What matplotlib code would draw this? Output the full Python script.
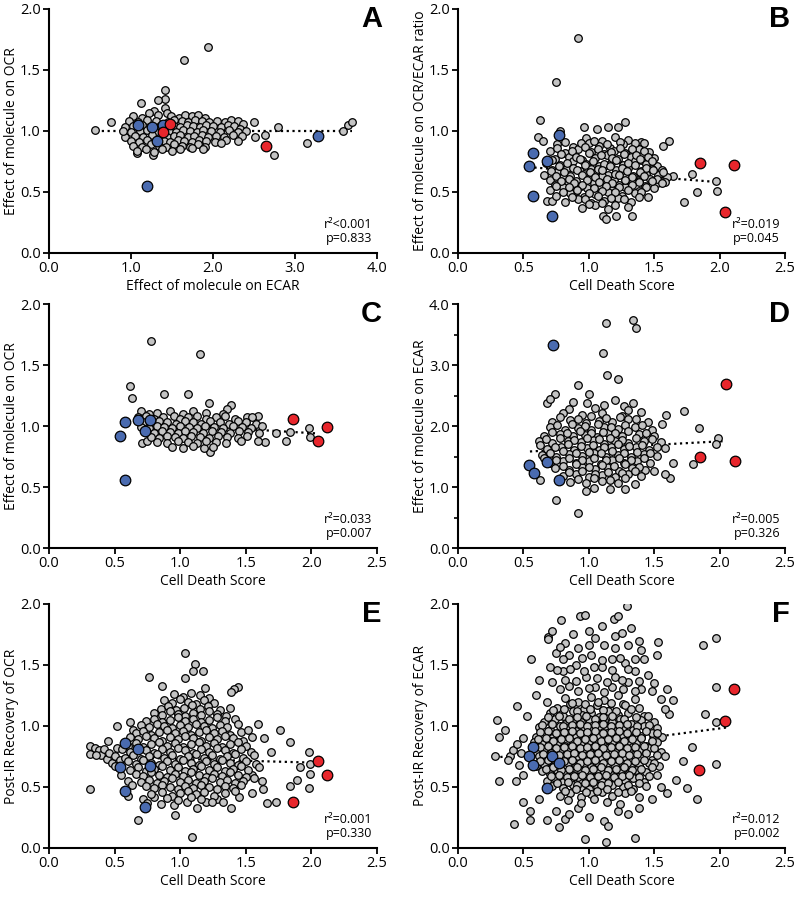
import matplotlib
matplotlib.use("Agg")
import matplotlib.pyplot as plt
from matplotlib.ticker import FormatStrFormatter, MultipleLocator

plt.rcParams['font.family'] = ['Open Sans', 'DejaVu Sans']

# ---------------- data ----------------
A_GRAY = [(0.56,1.01),(0.76,1.07),(1.94,1.69),(1.65,1.58),(1.41,1.34),(1.42,1.26),(1.33,1.25),(1.12,1.23),
          (1.42,1.19),(1.28,1.16),(1.22,1.15),(1.44,1.15),(0.93,0.95),(1.07,0.82),(1.27,0.80),(2.74,0.80),
          (3.15,0.90),(2.63,0.97),(2.51,0.95),(2.50,1.07),(2.79,1.03),(3.58,1.00),(3.65,1.05),(3.70,1.07),
          (1.02,1.12),(1.13,1.11),(1.33,1.13),(1.49,1.12),(1.58,1.11),(1.66,1.13),(1.74,1.12),(1.82,1.13),(1.90,1.11),
          (0.97,1.08),(1.08,1.07),(1.20,1.09),(1.30,1.08),(1.45,1.07),(1.53,1.09),(1.62,1.08),(1.70,1.07),(1.78,1.09),
          (1.86,1.08),(1.95,1.07),(2.05,1.08),(2.15,1.07),(2.22,1.09),(2.30,1.08),(2.36,1.06),
          (0.93,1.03),(1.02,1.04),(1.14,1.05),(1.24,1.03),(1.35,1.04),(1.52,1.04),(1.60,1.03),(1.68,1.05),(1.76,1.04),
          (1.84,1.03),(1.92,1.05),(2.00,1.04),(2.10,1.03),(2.18,1.05),(2.26,1.04),(2.33,1.02),
          (0.90,1.00),(1.00,0.99),(1.11,1.00),(1.19,1.01),(1.30,0.99),(1.46,1.00),(1.55,0.99),(1.64,1.01),(1.72,1.00),
          (1.80,0.99),(1.88,1.01),(1.97,1.00),(2.08,0.99),(2.20,1.01),(2.30,0.99),(2.40,1.00),
          (1.05,0.96),(1.15,0.95),(1.25,0.97),(1.36,0.96),(1.44,0.95),(1.52,0.96),(1.60,0.97),(1.69,0.95),(1.77,0.96),
          (1.86,0.97),(1.94,0.95),(2.04,0.96),(2.14,0.95),(2.25,0.97),(2.35,0.96),
          (1.00,0.92),(1.10,0.91),(1.20,0.93),(1.40,0.92),(1.48,0.91),(1.57,0.93),(1.65,0.92),(1.74,0.91),(1.83,0.93),
          (1.92,0.92),(2.02,0.91),(2.16,0.93),(2.30,0.92),
          (1.03,0.88),(1.14,0.87),(1.24,0.89),(1.34,0.88),(1.43,0.87),(1.52,0.89),(1.62,0.88),(1.72,0.87),(1.82,0.89),
          (1.90,0.87),(2.10,0.90),
          (1.07,0.84),(1.18,0.85),(1.28,0.83),(1.38,0.85),(1.50,0.84),(1.60,0.85),(1.75,0.86),(1.88,0.85)]
A_BLUE = [(1.08,1.05),(1.26,1.03),(1.39,1.05),(1.32,0.92),(1.20,0.55),(3.28,0.96)]
A_RED = [(1.47,1.06),(1.39,0.99),(2.65,0.88)]

B_GRAY = [(0.92,1.76),(0.75,1.40),(0.63,1.09),(0.78,1.00),(0.96,1.03),(1.06,1.02),(1.15,1.03),(1.22,1.03),
          (1.28,1.07),(1.61,0.92),(1.57,0.88),(0.61,0.95),(0.65,0.92),(1.79,0.65),(1.97,0.59),(1.98,0.51),
          (1.83,0.50),(1.73,0.42),(1.64,0.63),(1.11,0.30),(1.13,0.28),(1.21,0.30),(1.33,0.30),(0.68,0.43),(0.72,0.43),
          (0.98,0.94),(1.10,0.92),(1.20,0.95),(1.30,0.93),(1.40,0.91),
          (0.76,0.89),(0.88,0.87),(1.00,0.90),(1.08,0.88),(1.16,0.86),(1.26,0.89),(1.35,0.87),(1.42,0.90),
          (0.70,0.84),(0.82,0.82),(0.92,0.85),(1.02,0.83),(1.12,0.81),(1.19,0.84),(1.28,0.82),(1.38,0.85),(1.46,0.83),
          (0.74,0.77),(0.85,0.79),(0.95,0.76),(1.05,0.78),(1.14,0.80),(1.22,0.77),(1.32,0.79),(1.40,0.76),(1.50,0.78),
          (0.67,0.74),(0.78,0.72),(0.88,0.75),(0.98,0.73),(1.08,0.71),(1.17,0.74),(1.26,0.72),(1.35,0.75),(1.44,0.73),(1.52,0.71),
          (0.72,0.68),(0.83,0.70),(0.93,0.67),(1.02,0.69),(1.12,0.71),(1.21,0.68),(1.30,0.70),(1.40,0.67),(1.48,0.69),(1.56,0.68),
          (0.66,0.64),(0.76,0.66),(0.86,0.63),(0.96,0.65),(1.06,0.67),(1.15,0.64),(1.25,0.66),(1.34,0.63),(1.44,0.65),(1.53,0.64),(1.60,0.62),
          (0.70,0.60),(0.80,0.62),(0.90,0.59),(1.00,0.61),(1.10,0.63),(1.19,0.60),(1.28,0.62),(1.38,0.59),(1.47,0.61),(1.58,0.58),
          (0.74,0.56),(0.84,0.58),(0.94,0.55),(1.04,0.57),(1.13,0.59),(1.23,0.56),(1.33,0.58),(1.43,0.55),(1.52,0.57),
          (0.70,0.52),(0.80,0.54),(0.90,0.51),(0.99,0.53),(1.08,0.55),(1.18,0.52),(1.28,0.54),(1.38,0.51),(1.50,0.53),
          (0.75,0.47),(0.86,0.49),(0.96,0.46),(1.05,0.48),(1.15,0.50),(1.25,0.47),(1.35,0.49),(1.45,0.46),
          (0.82,0.42),(0.92,0.44),(1.02,0.41),(1.12,0.43),(1.22,0.45),(1.32,0.42),
          (0.95,0.37),(1.05,0.39),(1.15,0.36),(1.30,0.38),
          (0.82,0.91),(0.94,0.90),(1.04,0.92),(1.14,0.89),(1.24,0.91),(1.35,0.90),
          (0.76,0.86),(0.87,0.84),(0.97,0.87),(1.07,0.85),(1.17,0.83),(1.24,0.86),(1.33,0.85),(1.42,0.84),
          (0.79,0.81),(0.90,0.79),(1.00,0.82),(1.09,0.80),(1.18,0.78),(1.27,0.81),(1.36,0.80),(1.45,0.79),
          (0.72,0.76),(0.83,0.74),(0.93,0.77),(1.03,0.75),(1.12,0.73),(1.21,0.76),(1.30,0.74),(1.39,0.77),(1.48,0.75),
          (0.77,0.71),(0.88,0.70),(0.97,0.72),(1.07,0.69),(1.16,0.71),(1.25,0.70),(1.35,0.72),(1.44,0.70),
          (0.71,0.67),(0.81,0.66),(0.91,0.68),(1.01,0.66),(1.10,0.68),(1.20,0.65),(1.29,0.67),(1.39,0.66),(1.49,0.68),(1.57,0.66),
          (0.75,0.63),(0.85,0.61),(0.95,0.64),(1.05,0.62),(1.14,0.61),(1.23,0.64),(1.33,0.62),(1.42,0.63),(1.52,0.61),
          (0.79,0.59),(0.89,0.57),(0.99,0.60),(1.08,0.58),(1.18,0.57),(1.28,0.60),(1.38,0.58),(1.48,0.59),(1.56,0.57),
          (0.75,0.55),(0.85,0.54),(0.95,0.56),(1.04,0.53),(1.13,0.55),(1.23,0.54),(1.33,0.56),(1.44,0.54),
          (0.80,0.50),(0.91,0.52),(1.00,0.49),(1.10,0.51),(1.20,0.50),(1.30,0.52),(1.40,0.50),
          (0.87,0.46),(0.97,0.44),(1.07,0.47),(1.17,0.45),(1.27,0.44),(1.38,0.46),
          (1.00,0.40),(1.10,0.41),(1.20,0.39)]
B_BLUE = [(0.77,0.97),(0.57,0.82),(0.54,0.71),(0.68,0.75),(0.57,0.47),(0.72,0.30)]
B_RED = [(1.85,0.735),(2.11,0.72),(2.04,0.34)]

C_GRAY = [(0.78,1.70),(1.15,1.59),(0.62,1.33),(0.63,1.23),(0.88,1.26),(1.06,1.26),(1.22,1.19),(1.39,1.17),
          (1.36,1.14),(1.51,1.07),(1.59,1.08),(1.73,0.94),(1.81,0.88),(1.84,0.95),(1.98,0.98),(1.99,0.91),
          (1.65,0.87),(1.59,0.88),(1.23,0.79),(1.18,0.82),(0.71,0.86),(0.75,0.88),
          (0.70,1.12),(0.76,1.10),(0.82,1.11),(0.92,1.12),(1.02,1.10),(1.10,1.12),(1.20,1.11),(1.33,1.10),
          (0.68,1.07),(0.74,1.08),(0.80,1.06),(0.87,1.07),(0.95,1.08),(1.00,1.06),(1.06,1.07),(1.13,1.08),(1.20,1.06),
          (1.27,1.07),(1.34,1.08),(1.42,1.06),(1.55,1.07),
          (0.72,1.03),(0.78,1.02),(0.84,1.04),(0.90,1.03),(0.97,1.02),(1.04,1.04),(1.10,1.03),(1.16,1.02),(1.23,1.04),
          (1.30,1.03),(1.37,1.02),(1.44,1.04),(1.50,1.03),(1.58,1.02),
          (0.70,0.99),(0.76,0.98),(0.82,1.00),(0.88,0.99),(0.94,0.98),(1.00,1.00),(1.07,0.99),(1.13,0.98),(1.19,1.00),
          (1.26,0.99),(1.33,0.98),(1.40,1.00),(1.47,0.99),(1.54,0.98),(1.62,1.00),
          (0.74,0.95),(0.80,0.94),(0.86,0.96),(0.92,0.95),(0.98,0.94),(1.04,0.96),(1.10,0.95),(1.17,0.94),(1.24,0.96),
          (1.31,0.95),(1.38,0.94),(1.45,0.96),(1.52,0.95),(1.60,0.94),
          (0.78,0.91),(0.84,0.90),(0.90,0.92),(0.96,0.91),(1.02,0.90),(1.08,0.92),(1.15,0.91),(1.22,0.90),(1.29,0.92),
          (1.36,0.91),(1.44,0.90),(1.51,0.92),
          (0.82,0.87),(0.90,0.86),(0.98,0.88),(1.06,0.87),(1.13,0.86),(1.20,0.88),(1.27,0.87),(1.35,0.86),(1.46,0.88),
          (0.94,0.83),(1.02,0.82),(1.10,0.84),(1.25,0.83)]
C_BLUE = [(0.58,0.555),(0.54,0.92),(0.58,1.03),(0.68,1.05),(0.77,1.05),(0.73,0.96)]
C_RED = [(1.86,1.06),(2.12,0.99),(2.05,0.88)]

D_GRAY = [(1.13,3.69),(1.34,3.73),(1.36,3.61),(1.11,3.19),(1.14,2.83),(1.22,2.77),(0.92,2.67),(0.74,2.53),
          (1.00,2.53),(0.68,2.37),(0.99,2.38),(1.20,2.42),(1.34,2.38),(1.27,2.33),(1.12,2.35),(1.73,2.24),
          (1.59,2.18),(1.56,2.03),(1.84,1.96),(1.99,1.81),(1.97,1.70),(0.75,0.78),(0.92,0.58),(0.98,0.94),
          (1.28,0.97),(1.80,1.37),(1.64,1.39),(1.62,1.15),(1.58,1.22),(1.50,1.27),(0.63,1.11),
          (0.70,2.45),(0.85,2.28),(1.05,2.30),(1.30,2.26),(0.88,2.40),
          (0.80,2.22),(0.95,2.18),(1.10,2.21),(1.25,2.17),(1.40,2.23),
          (0.72,2.07),(0.86,2.10),(0.98,2.05),(1.08,2.09),(1.18,2.06),(1.30,2.11),(1.45,2.07),
          (0.70,1.98),(0.82,1.94),(0.92,1.97),(1.02,1.93),(1.12,1.99),(1.22,1.95),(1.35,1.98),(1.48,1.94),
          (0.66,1.84),(0.78,1.87),(0.88,1.83),(0.97,1.86),(1.06,1.82),(1.15,1.88),(1.25,1.84),(1.38,1.87),(1.50,1.83),
          (0.62,1.75),(0.72,1.72),(0.84,1.76),(0.94,1.73),(1.03,1.77),(1.12,1.71),(1.20,1.75),(1.30,1.72),(1.42,1.76),(1.55,1.73),
          (0.68,1.62),(0.79,1.65),(0.89,1.61),(0.99,1.64),(1.08,1.60),(1.17,1.66),(1.27,1.62),(1.36,1.65),(1.46,1.61),(1.58,1.64),
          (0.64,1.53),(0.75,1.50),(0.85,1.54),(0.95,1.51),(1.04,1.55),(1.13,1.49),(1.22,1.53),(1.32,1.50),(1.42,1.54),(1.52,1.51),
          (0.70,1.40),(0.80,1.43),(0.90,1.39),(1.00,1.42),(1.09,1.38),(1.18,1.44),(1.27,1.40),(1.37,1.43),(1.47,1.39),
          (0.74,1.31),(0.85,1.28),(0.95,1.32),(1.05,1.29),(1.14,1.33),(1.23,1.27),(1.33,1.31),(1.43,1.28),
          (0.80,1.18),(0.90,1.21),(1.00,1.17),(1.10,1.20),(1.20,1.16),(1.30,1.22),(1.40,1.18),
          (0.86,1.09),(0.98,1.06),(1.10,1.10),(1.22,1.07),(1.35,1.05),
          (1.04,0.99),(1.16,0.97),
          (0.78,2.15),(0.92,2.12),(1.02,2.16),(1.13,2.13),(1.24,2.15),(1.36,2.12),
          (0.76,2.01),(0.87,2.04),(0.97,2.00),(1.07,2.03),(1.17,1.99),(1.28,2.02),(1.41,2.01),
          (0.72,1.91),(0.83,1.88),(0.93,1.92),(1.02,1.89),(1.11,1.91),(1.20,1.88),(1.30,1.92),(1.44,1.89),
          (0.67,1.78),(0.78,1.81),(0.89,1.77),(0.99,1.80),(1.08,1.78),(1.16,1.81),(1.25,1.77),(1.36,1.80),(1.48,1.78),
          (0.63,1.69),(0.74,1.66),(0.84,1.70),(0.94,1.67),(1.03,1.69),(1.12,1.66),(1.22,1.70),(1.31,1.67),(1.41,1.69),(1.52,1.66),
          (0.70,1.56),(0.80,1.59),(0.90,1.55),(1.00,1.58),(1.09,1.56),(1.18,1.59),(1.27,1.55),(1.37,1.58),(1.47,1.56),
          (0.66,1.47),(0.75,1.45),(0.85,1.48),(0.95,1.44),(1.04,1.47),(1.13,1.45),(1.23,1.48),(1.32,1.44),(1.42,1.47),
          (0.80,1.35),(0.90,1.37),(1.00,1.33),(1.10,1.36),(1.19,1.34),(1.28,1.37),(1.38,1.33),
          (0.85,1.24),(0.95,1.26),(1.05,1.22),(1.15,1.25),(1.25,1.23),(1.35,1.26),
          (0.92,1.13),(1.04,1.15),(1.16,1.12),(1.28,1.14)]
D_BLUE = [(0.725,3.33),(0.54,1.355),(0.58,1.23),(0.68,1.41),(0.77,1.11)]
D_RED = [(2.05,2.69),(1.85,1.49),(2.12,1.42)]

E_GRAY = [(1.09,0.087),(0.31,0.48),(0.31,0.835),(0.31,0.77),(1.04,1.60),(1.11,1.51),(1.10,1.45),(1.17,1.45),
          (0.76,1.40),(1.04,1.39),(0.86,1.33),(1.19,1.31),(1.44,1.32),(1.41,1.30),(1.39,1.28),(0.52,1.00),
          (0.62,1.03),(0.64,0.97),(1.59,1.02),(1.76,0.97),(1.64,0.90),(1.84,0.87),(1.98,0.79),(1.69,0.79),
          (1.99,0.69),(1.99,0.61),(1.91,0.66),(1.89,0.56),(1.84,0.51),(1.98,0.49),(1.73,0.38),(1.66,0.37),
          (0.68,0.23),(0.96,0.27),(1.39,0.33),(1.13,0.33),
          (0.35,0.82),(0.38,0.80),(0.40,0.76),(0.42,0.81),(0.44,0.73),(0.46,0.78),(0.48,0.70),(0.50,0.75),
          (0.52,0.82),(0.54,0.72),(0.36,0.76),(0.45,0.88),(0.50,0.67),
          (0.55,0.60),(0.60,0.55),(0.63,0.52),(0.60,0.43),(0.72,0.40),(0.75,0.37),(0.80,0.42),(0.85,0.36),
          (0.95,0.35),(1.05,0.38),(1.20,0.38),(1.28,0.40),(1.33,0.38),(1.45,0.42),(1.55,0.45),(1.62,0.55),
          (1.63,0.48),(1.55,0.60),
          (0.95,1.26),(1.02,1.24),(1.08,1.27),(1.15,1.25),(1.22,1.23),
          (0.88,1.21),(0.94,1.19),(1.00,1.22),(1.06,1.20),(1.12,1.18),(1.18,1.21),(1.26,1.19),
          (0.85,1.14),(0.91,1.16),(0.97,1.13),(1.03,1.15),(1.09,1.17),(1.15,1.14),(1.21,1.16),(1.30,1.13),(1.38,1.15),
          (0.80,1.11),(0.86,1.09),(0.92,1.12),(0.98,1.10),(1.04,1.08),(1.10,1.11),(1.16,1.09),(1.22,1.12),(1.28,1.10),(1.35,1.08),
          (0.74,1.04),(0.80,1.06),(0.86,1.03),(0.92,1.05),(0.98,1.07),(1.04,1.04),(1.10,1.06),(1.16,1.03),(1.22,1.05),
          (1.28,1.07),(1.34,1.04),(1.42,1.06),
          (0.70,1.01),(0.76,0.99),(0.82,1.02),(0.88,1.00),(0.94,0.98),(1.00,1.01),(1.06,0.99),(1.12,1.02),(1.18,1.00),
          (1.24,0.98),(1.30,1.01),(1.36,0.99),(1.44,1.02),
          (0.66,0.94),(0.72,0.96),(0.78,0.93),(0.84,0.95),(0.90,0.97),(0.96,0.94),(1.02,0.96),(1.08,0.93),(1.14,0.95),
          (1.20,0.97),(1.26,0.94),(1.32,0.96),(1.38,0.93),(1.46,0.95),(1.52,0.97),
          (0.62,0.91),(0.68,0.89),(0.74,0.92),(0.80,0.90),(0.86,0.88),(0.92,0.91),(0.98,0.89),(1.04,0.92),(1.10,0.90),
          (1.16,0.88),(1.22,0.91),(1.28,0.89),(1.34,0.92),(1.40,0.90),(1.48,0.88),(1.55,0.91),
          (0.60,0.84),(0.66,0.86),(0.72,0.83),(0.78,0.85),(0.84,0.87),(0.90,0.84),(0.96,0.86),(1.02,0.83),(1.08,0.85),
          (1.14,0.87),(1.20,0.84),(1.26,0.86),(1.32,0.83),(1.38,0.85),(1.44,0.87),(1.50,0.84),
          (0.56,0.81),(0.62,0.79),(0.68,0.82),(0.74,0.80),(0.80,0.78),(0.86,0.81),(0.92,0.79),(0.98,0.82),(1.04,0.80),
          (1.10,0.78),(1.16,0.81),(1.22,0.79),(1.28,0.82),(1.34,0.80),(1.40,0.78),(1.46,0.81),(1.54,0.79),
          (0.58,0.74),(0.64,0.76),(0.70,0.73),(0.76,0.75),(0.82,0.77),(0.88,0.74),(0.94,0.76),(1.00,0.73),(1.06,0.75),
          (1.12,0.77),(1.18,0.74),(1.24,0.76),(1.30,0.73),(1.36,0.75),(1.42,0.77),(1.48,0.74),(1.56,0.76),
          (0.60,0.71),(0.66,0.69),(0.72,0.72),(0.78,0.70),(0.84,0.68),(0.90,0.71),(0.96,0.69),(1.02,0.72),(1.08,0.70),
          (1.14,0.68),(1.20,0.71),(1.26,0.69),(1.32,0.72),(1.38,0.70),(1.44,0.68),(1.50,0.71),(1.58,0.69),
          (0.62,0.64),(0.68,0.66),(0.74,0.63),(0.80,0.65),(0.86,0.67),(0.92,0.64),(0.98,0.66),(1.04,0.63),(1.10,0.65),
          (1.16,0.67),(1.22,0.64),(1.28,0.66),(1.34,0.63),(1.40,0.65),(1.46,0.67),(1.52,0.64),(1.60,0.66),
          (0.66,0.61),(0.72,0.59),(0.78,0.62),(0.84,0.60),(0.90,0.58),(0.96,0.61),(1.02,0.59),(1.08,0.62),(1.14,0.60),
          (1.20,0.58),(1.26,0.61),(1.32,0.59),(1.38,0.62),(1.44,0.60),(1.50,0.58),
          (0.70,0.54),(0.76,0.56),(0.82,0.53),(0.88,0.55),(0.94,0.57),(1.00,0.54),(1.06,0.56),(1.12,0.53),(1.18,0.55),
          (1.24,0.57),(1.30,0.54),(1.36,0.56),(1.42,0.53),(1.48,0.55),(1.56,0.57),
          (0.74,0.51),(0.80,0.49),(0.86,0.52),(0.92,0.50),(0.98,0.48),(1.04,0.51),(1.10,0.49),(1.16,0.52),(1.22,0.50),
          (1.28,0.48),(1.34,0.51),(1.40,0.49),(1.46,0.52),
          (0.78,0.44),(0.86,0.46),(0.94,0.43),(1.00,0.45),(1.06,0.47),(1.12,0.44),(1.18,0.46),(1.26,0.43),(1.34,0.45),(1.42,0.47),
          (0.90,0.41),(0.98,0.39),(1.08,0.42),(1.16,0.40),(1.24,0.38)]
E_BLUE = [(0.58,0.86),(0.68,0.81),(0.54,0.66),(0.77,0.67),(0.58,0.47),(0.73,0.34)]
E_RED = [(2.05,0.71),(2.12,0.60),(1.86,0.38)]

F_GRAY = [(1.29,1.98),(0.93,1.90),(0.97,1.91),(1.19,1.88),(1.22,1.90),(0.79,1.87),(1.97,1.72),(1.87,1.66),
          (1.53,1.69),(1.52,1.58),(0.56,1.55),(0.69,1.73),(0.69,1.71),(1.97,1.32),(1.97,1.03),(1.89,1.10),
          (1.79,0.83),(1.97,0.69),(1.83,0.40),(1.75,0.49),(1.67,0.56),(1.72,0.71),(1.35,0.08),(1.13,0.047),
          (0.97,0.074),(0.43,0.20),(0.55,0.23),(0.68,0.23),(0.77,0.17),(0.82,0.24),(0.31,0.55),(0.30,1.05),
          (0.31,0.91),(0.36,0.97),(0.28,0.75),(0.45,1.16),(0.53,1.08),(1.48,1.29),(1.64,1.21),(1.61,1.10),
          (0.72,1.78),(0.82,1.68),(0.88,1.75),(0.92,1.64),(1.00,1.78),(1.05,1.72),(1.10,1.82),(1.12,1.66),
          (1.20,1.74),(1.25,1.76),(1.30,1.66),(1.32,1.80),(1.38,1.70),(1.40,1.62),(0.75,1.60),(0.85,1.58),
          (1.02,1.58),(1.18,1.55),(1.28,1.52),(1.42,1.55),(0.70,1.48),(0.80,1.45),(0.90,1.50),(1.10,1.48),
          (1.35,1.45),(1.45,1.42),(0.62,1.38),(0.72,1.36),(0.98,1.40),(1.20,1.40),(1.30,1.36),(1.50,1.35),
          (0.85,1.33),(1.05,1.32),(1.40,1.30),(1.60,1.30),(0.60,1.25),(0.68,1.20),(1.55,1.22),(1.58,1.14),
          (0.55,0.30),(0.62,0.40),(0.75,0.30),(0.85,0.28),(0.92,0.33),(1.00,0.25),(1.12,0.22),(1.15,0.18),
          (1.22,0.30),(1.30,0.28),(1.38,0.33),(1.48,0.40),(1.55,0.50),(1.60,0.45),(0.50,0.38),(0.44,0.55),
          (0.50,0.60),(0.47,0.68),(0.40,0.75),(0.42,0.80),(0.38,0.72),(0.45,0.85),(0.50,0.90),(0.48,0.78),
          (0.78,1.30),(0.92,1.29),(1.00,1.31),(1.12,1.28),(1.18,1.32),(1.26,1.30),(1.35,1.29),
          (0.82,1.38),(0.90,1.37),(1.06,1.39),(1.14,1.36),(1.25,1.38),(1.38,1.37),
          (0.76,1.46),(0.86,1.47),(0.96,1.45),(1.04,1.48),(1.18,1.46),(1.30,1.47),
          (0.80,1.55),(0.95,1.56),(1.10,1.54),(1.24,1.56),(1.35,1.55),
          (0.78,1.65),(1.00,1.66),(1.20,1.64),
          (0.82,1.23),(0.92,1.20),(1.02,1.24),(1.12,1.21),(1.22,1.25),(1.35,1.22),
          (0.76,1.15),(0.86,1.18),(0.96,1.14),(1.06,1.17),(1.16,1.13),(1.26,1.18),(1.38,1.15),
          (0.70,1.11),(0.80,1.08),(0.88,1.12),(0.95,1.09),(1.02,1.11),(1.08,1.07),(1.15,1.12),(1.22,1.09),(1.30,1.11),(1.42,1.08),
          (0.66,1.03),(0.74,1.06),(0.82,1.02),(0.88,1.05),(0.94,1.03),(1.00,1.06),(1.06,1.02),(1.12,1.05),(1.18,1.03),
          (1.24,1.06),(1.32,1.02),(1.40,1.05),(1.50,1.03),
          (0.62,0.99),(0.70,0.97),(0.78,1.00),(0.84,0.98),(0.90,0.96),(0.96,0.99),(1.02,0.97),(1.08,1.00),(1.14,0.98),
          (1.20,0.96),(1.26,0.99),(1.34,0.97),(1.42,1.00),(1.52,0.98),
          (0.60,0.91),(0.66,0.93),(0.72,0.90),(0.78,0.92),(0.84,0.94),(0.90,0.91),(0.96,0.93),(1.02,0.90),(1.08,0.92),
          (1.14,0.94),(1.20,0.91),(1.26,0.93),(1.32,0.90),(1.40,0.92),(1.48,0.94),(1.56,0.91),
          (0.58,0.87),(0.64,0.85),(0.70,0.88),(0.76,0.86),(0.82,0.84),(0.88,0.87),(0.94,0.85),(1.00,0.88),(1.06,0.86),
          (1.12,0.84),(1.18,0.87),(1.24,0.85),(1.30,0.88),(1.36,0.86),(1.44,0.84),(1.52,0.87),
          (0.60,0.79),(0.66,0.81),(0.72,0.78),(0.78,0.80),(0.84,0.82),(0.90,0.79),(0.96,0.81),(1.02,0.78),(1.08,0.80),
          (1.14,0.82),(1.20,0.79),(1.26,0.81),(1.32,0.78),(1.38,0.80),(1.46,0.82),(1.55,0.79),
          (0.62,0.75),(0.68,0.73),(0.74,0.76),(0.80,0.74),(0.86,0.72),(0.92,0.75),(0.98,0.73),(1.04,0.76),(1.10,0.74),
          (1.16,0.72),(1.22,0.75),(1.28,0.73),(1.34,0.76),(1.40,0.74),(1.48,0.72),(1.58,0.75),
          (0.60,0.67),(0.66,0.69),(0.72,0.66),(0.78,0.68),(0.84,0.70),(0.90,0.67),(0.96,0.69),(1.02,0.66),(1.08,0.68),
          (1.14,0.70),(1.20,0.67),(1.26,0.69),(1.32,0.66),(1.38,0.68),(1.46,0.70),(1.54,0.67),
          (0.64,0.63),(0.70,0.61),(0.76,0.64),(0.82,0.62),(0.88,0.60),(0.94,0.63),(1.00,0.61),(1.06,0.64),(1.12,0.62),
          (1.18,0.60),(1.24,0.63),(1.30,0.61),(1.36,0.64),(1.44,0.62),(1.52,0.60),
          (0.68,0.55),(0.74,0.57),(0.80,0.54),(0.86,0.56),(0.92,0.58),(0.98,0.55),(1.04,0.57),(1.10,0.54),(1.16,0.56),
          (1.22,0.58),(1.28,0.55),(1.34,0.57),(1.42,0.54),
          (0.72,0.51),(0.80,0.49),(0.88,0.52),(0.94,0.50),(1.00,0.48),(1.06,0.51),(1.12,0.49),(1.18,0.52),(1.26,0.50),
          (1.34,0.48),(1.44,0.51),
          (0.78,0.43),(0.86,0.45),(0.94,0.42),(1.02,0.44),(1.10,0.46),(1.18,0.43),(1.28,0.45),(1.38,0.42),
          (0.84,0.39),(0.94,0.37),(1.04,0.40),(1.14,0.38),(1.24,0.36),
          (0.87,1.19),(0.97,1.18),(1.07,1.20),(1.17,1.19),(1.28,1.17),
          (0.73,1.13),(0.81,1.14),(0.91,1.12),(1.01,1.14),(1.11,1.13),(1.21,1.12),(1.32,1.14),
          (0.69,1.07),(0.77,1.08),(0.85,1.06),(0.91,1.07),(0.98,1.08),(1.05,1.06),(1.11,1.07),(1.18,1.08),(1.27,1.06),(1.36,1.07),(1.45,1.08),
          (0.64,1.01),(0.72,1.02),(0.80,1.00),(0.87,1.01),(0.93,1.02),(0.99,1.00),(1.05,1.01),(1.11,1.02),(1.17,1.00),
          (1.23,1.01),(1.29,1.02),(1.37,1.00),(1.46,1.01),
          (0.63,0.95),(0.69,0.96),(0.75,0.94),(0.81,0.95),(0.87,0.96),(0.93,0.94),(0.99,0.95),(1.05,0.96),(1.11,0.94),
          (1.17,0.95),(1.23,0.96),(1.29,0.94),(1.36,0.95),(1.44,0.96),(1.52,0.94),
          (0.61,0.89),(0.67,0.90),(0.73,0.88),(0.79,0.89),(0.85,0.90),(0.91,0.88),(0.97,0.89),(1.03,0.90),(1.09,0.88),
          (1.15,0.89),(1.21,0.90),(1.27,0.88),(1.33,0.89),(1.40,0.90),(1.48,0.88),
          (0.63,0.83),(0.69,0.84),(0.75,0.82),(0.81,0.83),(0.87,0.84),(0.93,0.82),(0.99,0.83),(1.05,0.84),(1.11,0.82),
          (1.17,0.83),(1.23,0.84),(1.29,0.82),(1.35,0.83),(1.42,0.84),(1.50,0.82),
          (0.65,0.77),(0.71,0.78),(0.77,0.76),(0.83,0.77),(0.89,0.78),(0.95,0.76),(1.01,0.77),(1.07,0.78),(1.13,0.76),
          (1.19,0.77),(1.25,0.78),(1.31,0.76),(1.37,0.77),(1.44,0.78),(1.52,0.76),
          (0.63,0.71),(0.69,0.72),(0.75,0.70),(0.81,0.71),(0.87,0.72),(0.93,0.70),(0.99,0.71),(1.05,0.72),(1.11,0.70),
          (1.17,0.71),(1.23,0.72),(1.29,0.70),(1.35,0.71),(1.42,0.72),(1.50,0.70),
          (0.67,0.65),(0.73,0.66),(0.79,0.64),(0.85,0.65),(0.91,0.66),(0.97,0.64),(1.03,0.65),(1.09,0.66),(1.15,0.64),
          (1.21,0.65),(1.27,0.66),(1.33,0.64),(1.40,0.65),(1.48,0.66),
          (0.71,0.59),(0.77,0.60),(0.83,0.58),(0.89,0.59),(0.95,0.60),(1.01,0.58),(1.07,0.59),(1.13,0.60),(1.19,0.58),
          (1.25,0.59),(1.31,0.60),(1.38,0.58),(1.46,0.59),
          (0.76,0.53),(0.84,0.54),(0.91,0.52),(0.97,0.53),(1.03,0.54),(1.09,0.52),(1.15,0.53),(1.22,0.54),(1.30,0.52),(1.38,0.53),
          (0.82,0.47),(0.90,0.48),(0.98,0.46),(1.06,0.47),(1.14,0.48),(1.22,0.46),(1.32,0.47)]
F_BLUE = [(0.57,0.83),(0.54,0.75),(0.57,0.68),(0.72,0.75),(0.77,0.70),(0.68,0.49)]
F_RED = [(2.11,1.30),(2.04,1.04),(1.84,0.64)]

# linear-fit lines: slope, intercept, x start, x end
TRENDS = {'A': (0.0, 1.00, 0.57, 3.70), 'B': (-0.085, 0.75, 0.54, 2.00),
          'C': (-0.064, 1.07, 0.56, 2.03), 'D': (0.114, 1.52, 0.55, 2.04),
          'E': (-0.03, 0.76, 0.30, 2.05), 'F': (0.14, 0.70, 0.28, 2.06)}
STATS = {'A': ('r\u00b2<0.001', 'p=0.833'), 'B': ('r\u00b2=0.019', 'p=0.045'),
         'C': ('r\u00b2=0.033', 'p=0.007'), 'D': ('r\u00b2=0.005', 'p=0.326'),
         'E': ('r\u00b2=0.001', 'p=0.330'), 'F': ('r\u00b2=0.012', 'p=0.002')}
XLABELS = {'A': 'Effect of molecule on ECAR', 'B': 'Cell Death Score', 'C': 'Cell Death Score',
           'D': 'Cell Death Score', 'E': 'Cell Death Score', 'F': 'Cell Death Score'}
YLABELS = {'A': 'Effect of molecule on OCR', 'B': 'Effect of molecule on OCR/ECAR ratio',
           'C': 'Effect of molecule on OCR', 'D': 'Effect of molecule on ECAR',
           'E': 'Post-IR Recovery of OCR', 'F': 'Post-IR Recovery of ECAR'}
XMAX = {'A': 4.0, 'B': 2.5, 'C': 2.5, 'D': 2.5, 'E': 2.5, 'F': 2.5}
YMAX = {'A': 2.0, 'B': 2.0, 'C': 2.0, 'D': 4.0, 'E': 2.0, 'F': 2.0}
XSTEP = {'A': 1.0, 'B': 0.5, 'C': 0.5, 'D': 0.5, 'E': 0.5, 'F': 0.5}
YSTEP = {'A': 0.5, 'B': 0.5, 'C': 0.5, 'D': 1.0, 'E': 0.5, 'F': 0.5}

POINTS = {'A': (A_GRAY, A_BLUE, A_RED), 'B': (B_GRAY, B_BLUE, B_RED), 'C': (C_GRAY, C_BLUE, C_RED),
          'D': (D_GRAY, D_BLUE, D_RED), 'E': (E_GRAY, E_BLUE, E_RED), 'F': (F_GRAY, F_BLUE, F_RED)}

GRAY = '#c4c4c4'
BLUE = '#4a6bb0'
RED = '#e8262c'

fig = plt.figure(figsize=(8, 9), dpi=100)
lefts = {'A': 0.06125, 'C': 0.06125, 'E': 0.06125, 'B': 0.5725, 'D': 0.5725, 'F': 0.5725}
widths = {'A': 0.41, 'C': 0.41, 'E': 0.41, 'B': 0.40875, 'D': 0.40875, 'F': 0.40875}
bottoms = {'A': 0.7189, 'B': 0.7189, 'C': 0.3911, 'D': 0.3911, 'E': 0.0578, 'F': 0.0578}
H = 0.2711

for key in 'ABCDEF':
    ax = fig.add_axes([lefts[key], bottoms[key], widths[key], H])
    gray, blue, red = POINTS[key]
    slope, icpt, x0, x1 = TRENDS[key]
    ax.plot([x0, x1], [icpt + slope * x0, icpt + slope * x1], color='black',
            linestyle=(0, (1, 1.6)), linewidth=1.6, zorder=1)
    gx, gy = zip(*gray)
    ax.scatter(gx, gy, s=30, facecolor=GRAY, edgecolor='black', linewidth=0.9, zorder=2)
    bx, by = zip(*blue)
    ax.scatter(bx, by, s=58, facecolor=BLUE, edgecolor='black', linewidth=0.9, zorder=3)
    rx, ry = zip(*red)
    ax.scatter(rx, ry, s=58, facecolor=RED, edgecolor='black', linewidth=0.9, zorder=3)

    ax.set_xlim(0, XMAX[key])
    ax.set_ylim(0, YMAX[key])
    ax.xaxis.set_major_locator(MultipleLocator(XSTEP[key]))
    ax.yaxis.set_major_locator(MultipleLocator(YSTEP[key]))
    if key == 'D':
        ax.yaxis.set_minor_locator(MultipleLocator(0.5))
    ax.xaxis.set_major_formatter(FormatStrFormatter('%.1f'))
    ax.yaxis.set_major_formatter(FormatStrFormatter('%.1f'))
    for s in ('top', 'right'):
        ax.spines[s].set_visible(False)
    for s in ('left', 'bottom'):
        ax.spines[s].set_linewidth(1.5)
    ax.tick_params(axis='both', which='major', direction='out', length=4, width=1.3,
                   labelsize=10.5, pad=2)
    ax.tick_params(axis='both', which='minor', direction='out', length=3, width=1.2)
    ax.set_xlabel(XLABELS[key], fontsize=10, labelpad=2)
    ax.set_ylabel(YLABELS[key], fontsize=10, labelpad=0.5)
    ax.text(1.015, 0.958, key, transform=ax.transAxes, ha='right', va='center',
            fontsize=21, fontweight='bold', family=['Liberation Sans', 'DejaVu Sans'])
    r2, p = STATS[key]
    ax.text(0.985, 0.115, r2, transform=ax.transAxes, ha='right', va='center', fontsize=9)
    ax.text(0.985, 0.058, p, transform=ax.transAxes, ha='right', va='center', fontsize=9)

fig.savefig('out.png', dpi=100)
